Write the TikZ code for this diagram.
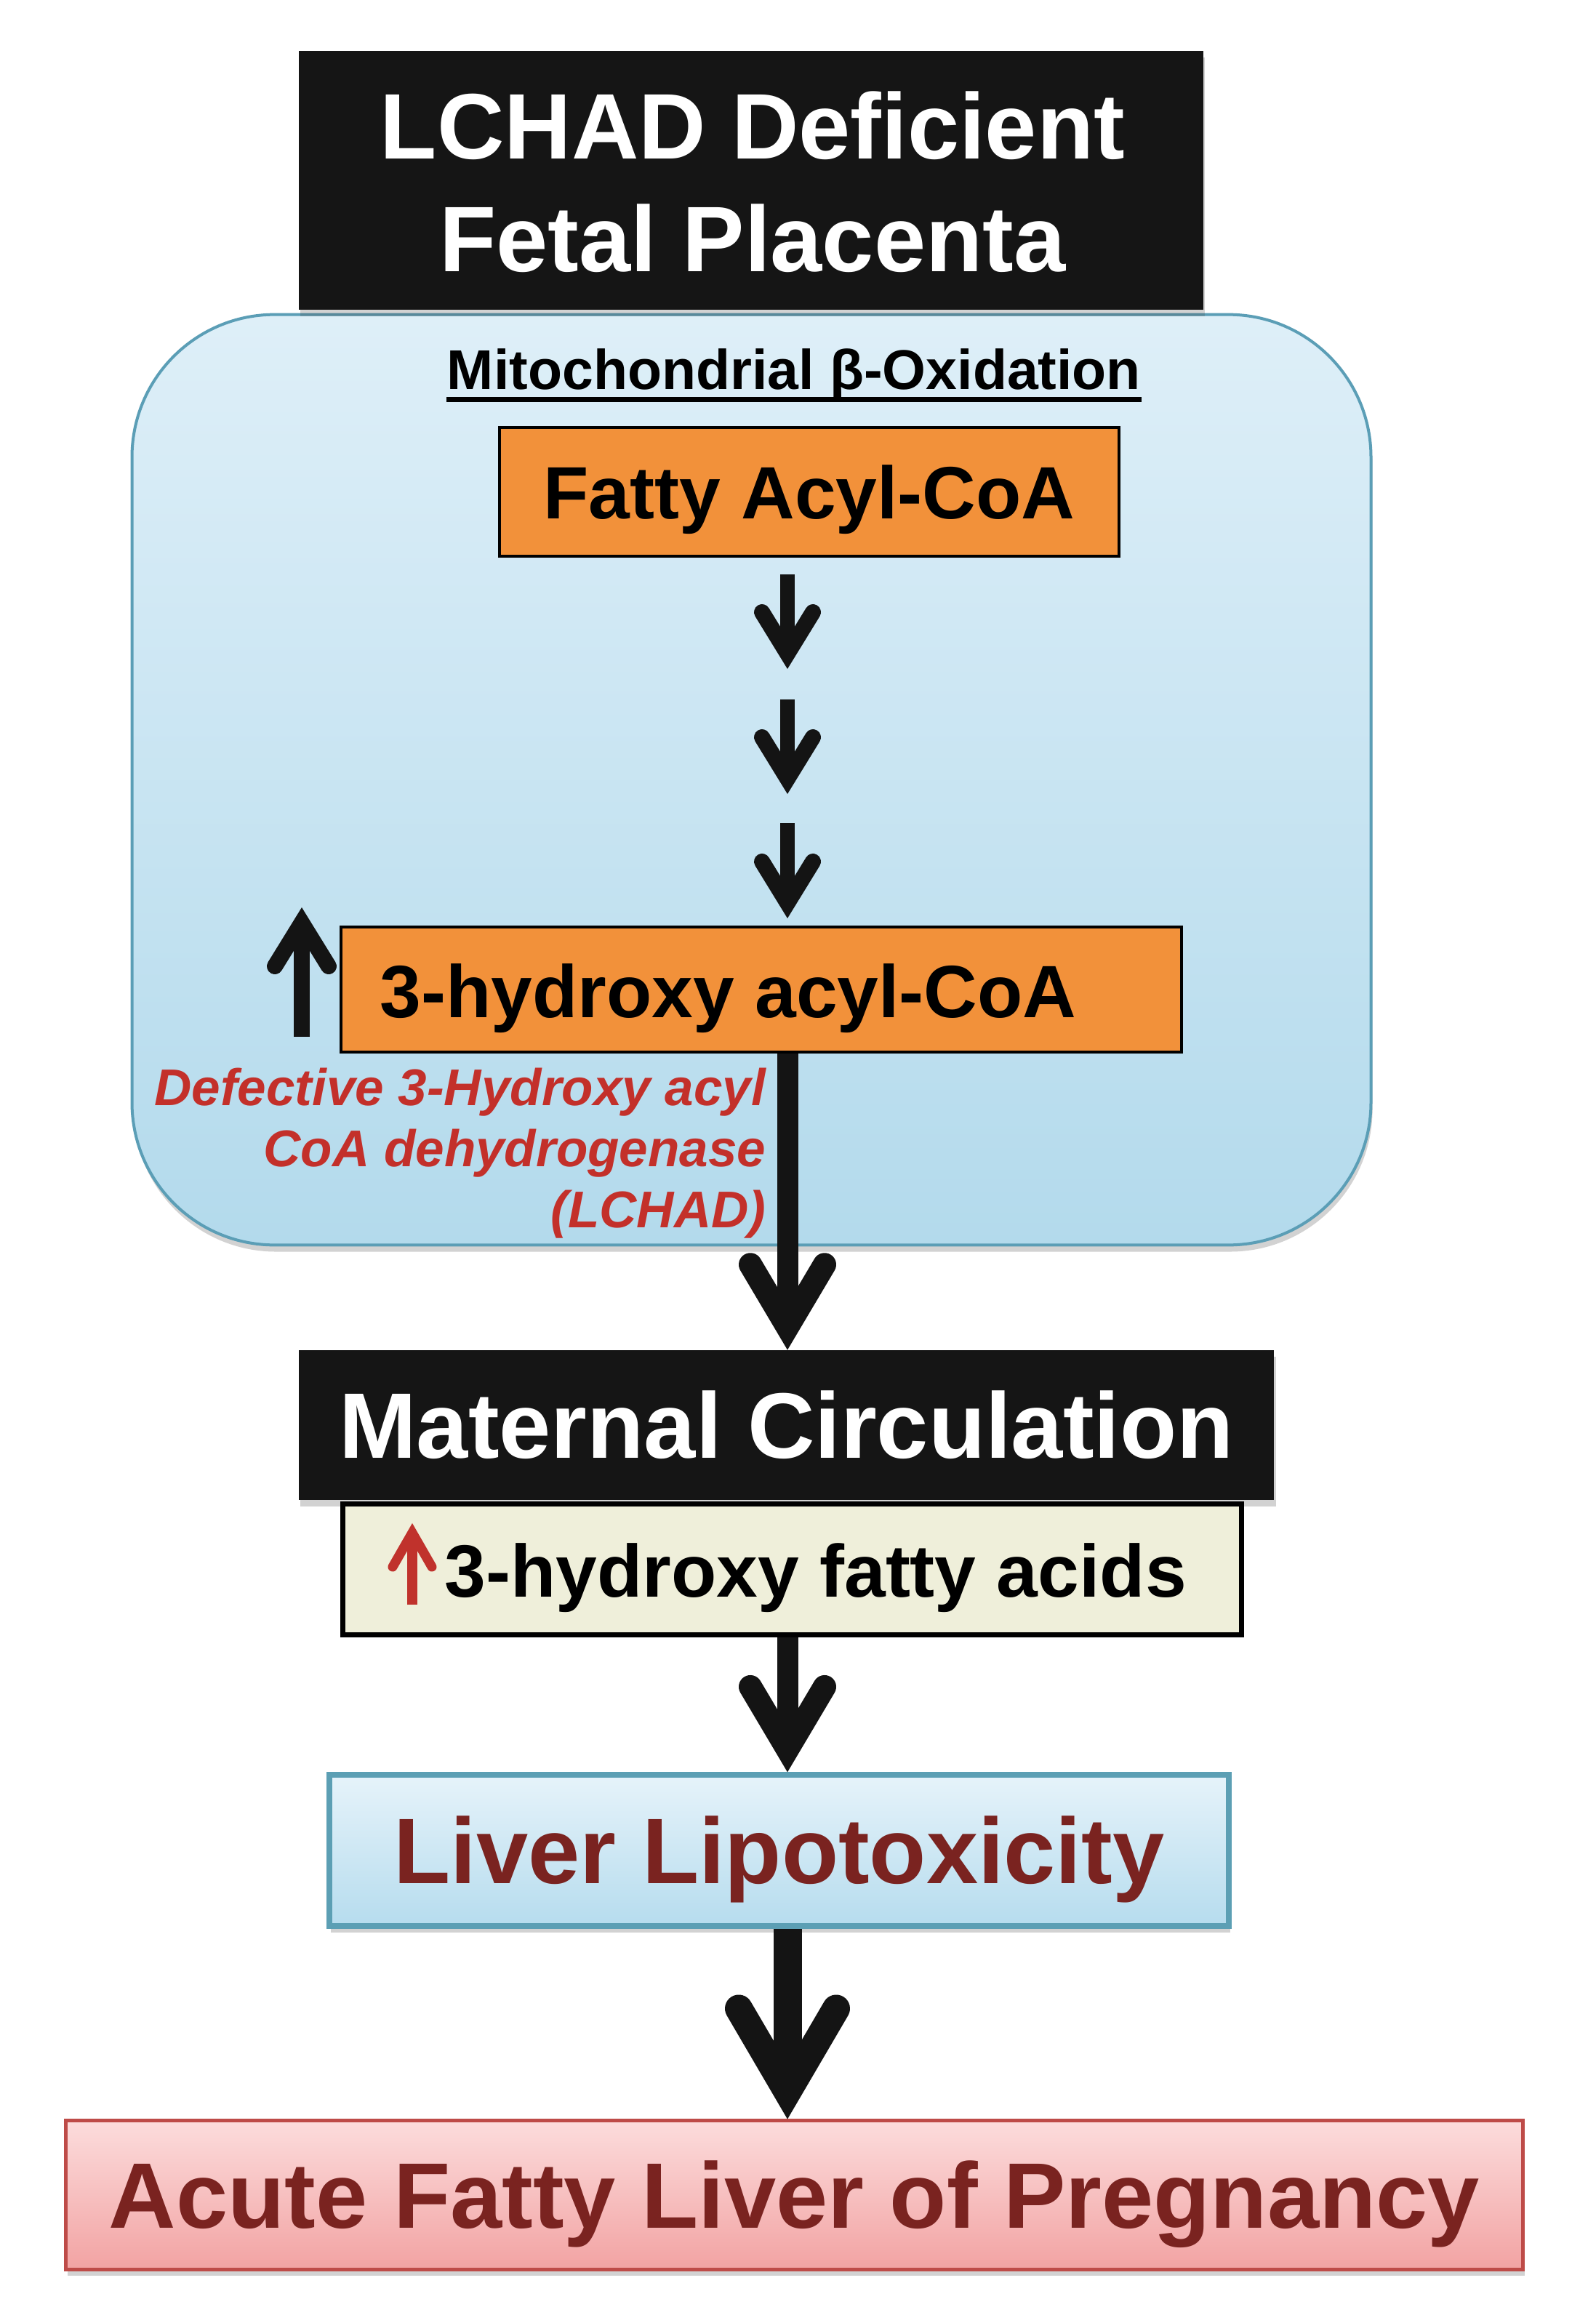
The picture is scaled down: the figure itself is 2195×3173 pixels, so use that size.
\documentclass[tikz,border=0pt]{standalone}
\usepackage{fontspec}
\setmainfont{Liberation Sans}
\usetikzlibrary{calc,shadows}
\definecolor{boxblack}{HTML}{151515}
\definecolor{contTop}{HTML}{DEEFF8}
\definecolor{contBot}{HTML}{B3DAEC}
\definecolor{contLine}{HTML}{5B9EB6}
\definecolor{orangeF}{HTML}{F2913A}
\definecolor{creamF}{HTML}{EFEFDA}
\definecolor{livTop}{HTML}{E6F3FA}
\definecolor{livBot}{HTML}{B6DCEE}
\definecolor{livLine}{HTML}{5C9FB4}
\definecolor{acTop}{HTML}{FCDCDC}
\definecolor{acBot}{HTML}{F2A3A3}
\definecolor{acLine}{HTML}{BE4B48}
\definecolor{darkred}{HTML}{7A2320}
\definecolor{redtext}{HTML}{C3302A}
\definecolor{redarrow}{HTML}{C0322C}
\definecolor{arrowcol}{HTML}{141414}
\def\pxu{0.28453pt}
\newcommand\fntA{\fontsize{36.4pt}{44pt}\selectfont}
\newcommand\fntB{\fontsize{29pt}{35pt}\selectfont}
\newcommand\fntC{\fontsize{21.9pt}{26pt}\selectfont}
\newcommand\fntD{\fontsize{20.2pt}{24pt}\selectfont}
% #1 colour, #2 tip coordinate, #3 dx, #4 dy, #5 stroke width (px), #6 miter offset (px)
\newcommand\headdown[6]{\draw[draw=#1, line width=#5*\pxu, line cap=round, line join=miter, miter limit=20]
  ($(#2)+(-#3,-#4)$) -- ($(#2)+(0,-#6)$) -- ($(#2)+(#3,-#4)$);}
\newcommand\headup[6]{\draw[draw=#1, line width=#5*\pxu, line cap=round, line join=miter, miter limit=20]
  ($(#2)+(-#3,#4)$) -- ($(#2)+(0,#6)$) -- ($(#2)+(#3,#4)$);}
\tikzset{
  txt/.style={inner sep=0pt},
  shad/.style={drop shadow={shadow xshift=0.6pt, shadow yshift=-2.6pt, opacity=0.25, fill=black!70}},
  container/.style={draw=contLine, line width=4*\pxu, top color=contTop, bottom color=contBot,
    rounded corners=1.96cm, inner sep=0pt, shad},
  blackbox/.style={fill=boxblack, inner sep=0pt, shad},
  orangebox/.style={fill=orangeF, draw=black, line width=4*\pxu, inner sep=0pt},
  creambox/.style={fill=creamF, draw=black, line width=7*\pxu, inner sep=0pt},
  livbox/.style={draw=livLine, line width=8*\pxu, top color=livTop, bottom color=livBot, inner sep=0pt, shad},
  acbox/.style={draw=acLine, line width=5*\pxu, top color=acTop, bottom color=acBot, inner sep=0pt, shad},
  shaft/.style={draw=arrowcol, line width=#1*\pxu},
  redline/.style={txt, text=redtext, font=\bfseries\itshape\fntD, anchor=base east}
}
\begin{document}
\begin{tikzpicture}[x=0.01cm, y=-0.01cm]
\fill[white] (0,0) rectangle (2195,3173);
\useasboundingbox (0,0) rectangle (2195,3173);

% container
\node[container, minimum width=17.03cm, minimum height=12.79cm] (cont) at (1033.5,1072.5) {};
% title box
\node[blackbox, minimum width=12.44cm, minimum height=3.56cm] (top) at (1033,248) {};
\node[txt, text=white, font=\bfseries\fntA, anchor=base] (topa) at (1035,219) {LCHAD Deficient};
\node[txt, text=white, font=\bfseries\fntA, anchor=base] (topb) at (1035,374) {Fetal Placenta};

% mitochondrial title
\node[txt, font=\bfseries\fntC, anchor=base] (mtitle) at (1092,535) {Mitochondrial β-Oxidation};
\draw[line width=7*\pxu] ([yshift=-4pt]mtitle.base west) -- ([yshift=-4pt]mtitle.base east);

% fatty acyl-CoA
\node[orangebox, minimum width=8.52cm, minimum height=1.77cm, font=\bfseries\fntB,
  text height=20.8pt, text depth=0pt] (fatty) at (1113,676.5) {Fatty Acyl-CoA};

% small step arrows
\coordinate (s1a) at (1083,790);  \coordinate (s1b) at (1083,920);
\coordinate (s2a) at (1083,962);  \coordinate (s2b) at (1083,1092);
\coordinate (s3a) at (1083,1132); \coordinate (s3b) at (1083,1263);
\foreach \a/\b in {s1a/s1b,s2a/s2b,s3a/s3b}{
  \draw[shaft=20] (\a) -- ($(\b)+(0,-40)$);
  \headdown{arrowcol}{\b}{35}{78}{22}{21}
}

% 3-hydroxy acyl-CoA
\node[orangebox, minimum width=11.56cm, minimum height=1.72cm] (hacyl) at (1047,1361) {};
\node[txt, font=\bfseries\fntB, anchor=base west] (hacylt) at (522,1399) {3-hydroxy acyl-CoA};

% up arrow
\coordinate (upb) at (415,1426); \coordinate (upt) at (415,1248);
\draw[shaft=22] (upb) -- ($(upt)+(0,40)$);
\headup{arrowcol}{upt}{37}{81}{22}{21}

% red enzyme text
\node[redline] (r1) at (1054,1520) {Defective 3-Hydroxy acyl};
\node[redline] (r2) at (1054,1604) {CoA dehydrogenase};
\node[redline] (r3) at (1054,1688) {(LCHAD)};

% maternal circulation
\node[blackbox, minimum width=13.41cm, minimum height=2.06cm, text=white, font=\bfseries\fntA,
  text height=26.1pt, text depth=0pt] (mat) at (1081.5,1960) {Maternal Circulation};

% 3-hydroxy fatty acids
\node[creambox, minimum width=12.35cm, minimum height=1.79cm] (fa) at (1089.5,2158.5) {};
\node[txt, font=\bfseries\fntB, anchor=base west] (fat) at (611,2196) {3-hydroxy fatty acids};
\coordinate (rb) at (567,2207); \coordinate (rt) at (567,2095);
\draw[draw=redarrow, line width=14*\pxu] (rb) -- ($(rt)+(0,25)$);
\headup{redarrow}{rt}{27}{60}{13}{13}

% liver lipotoxicity
\node[livbox, minimum width=12.37cm, minimum height=2.08cm, text=darkred, font=\bfseries\fntA,
  text height=26.1pt, text depth=0pt] (liv) at (1071.5,2545) {Liver Lipotoxicity};

% acute fatty liver
\node[acbox, minimum width=20.03cm, minimum height=2.04cm, text=darkred, font=\bfseries\fntA,
  text height=26.1pt, text depth=0pt] (acute) at (1092.5,3019) {Acute Fatty Liver of Pregnancy};

% big arrows
\coordinate (ax) at (1083,0);
\coordinate (b1t) at (mat.north -| ax);
\draw[shaft=29] (hacyl.south -| ax) -- ($(b1t)+(0,-60)$);
\headdown{arrowcol}{b1t}{51}{117}{32}{31}

\coordinate (b2t) at (liv.north -| ax);
\draw[shaft=29] (fa.south -| ax) -- ($(b2t)+(0,-60)$);
\headdown{arrowcol}{b2t}{51}{117}{32}{31}

\coordinate (b3t) at (acute.north -| ax);
\draw[shaft=39] (liv.south -| ax) -- ($(b3t)+(0,-70)$);
\headdown{arrowcol}{b3t}{67}{152}{38}{37.5}
\end{tikzpicture}
\end{document}
